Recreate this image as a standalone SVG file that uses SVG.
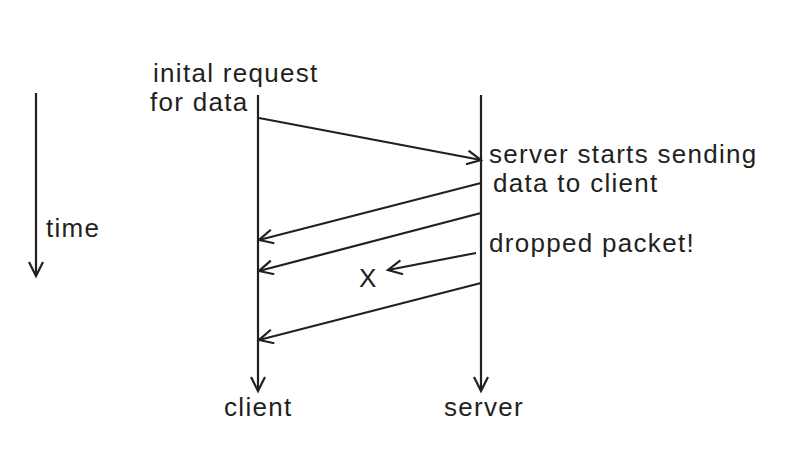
<svg xmlns="http://www.w3.org/2000/svg" width="785" height="460" viewBox="0 0 785 460">
<style>
text{font-family:"Liberation Sans",Arial,sans-serif;font-size:26px;letter-spacing:1.3px;fill:#231f20}
line{stroke:#231f20;stroke-width:2.2;fill:none;marker-end:url(#a)}
</style>
<defs><marker id="a" markerWidth="20" markerHeight="20" refX="16" refY="8" orient="auto" markerUnits="userSpaceOnUse"><path d="M2,1 L16,8 L2,15" fill="none" stroke="#231f20" stroke-width="2.2"/></marker></defs>
<rect width="785" height="460" fill="#fff"/>
<g id="time"><text x="46" y="237">time</text></g>
<g id="client"><text x="224" y="416">client</text></g>
<g id="server"><text x="444" y="416">server</text></g>
<g id="labels">
<text x="153" y="82">inital request</text>
<text x="150" y="111">for data</text>
<text x="489" y="163">server starts sending</text>
<text x="493" y="192">data to client</text>
<text x="489" y="252">dropped packet!</text>
<text x="359" y="287">X</text>
</g>
<g id="connectors">
<line x1="36" y1="93" x2="36" y2="276"/>
<line x1="258" y1="95" x2="258" y2="391"/>
<line x1="481" y1="95" x2="481" y2="391"/>
<line x1="259" y1="118" x2="481" y2="160"/>
<line x1="481" y1="183" x2="259" y2="240"/>
<line x1="481" y1="213" x2="259" y2="271"/>
<line x1="476" y1="253" x2="388" y2="270"/>
<line x1="481" y1="283" x2="259" y2="340"/>
</g>
</svg>
